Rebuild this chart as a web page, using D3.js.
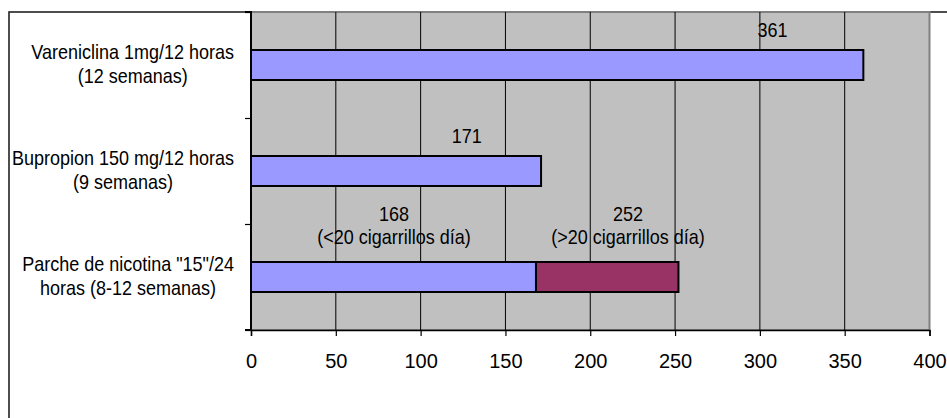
<!DOCTYPE html>
<html>
<head>
<meta charset="utf-8">
<script src="https://cdn.jsdelivr.net/npm/d3@7"></script>
<style>
  html, body { margin: 0; padding: 0; background: #fff; }
  svg { display: block; font-family: Arial, "Liberation Sans", sans-serif; }
</style>
</head>
<body>
<svg id="chart" width="947" height="418"></svg>
<script>
// ---- data ----
const categories = [
  ["Vareniclina 1mg/12 horas", "(12 semanas)"],
  ["Bupropion 150 mg/12 horas", "(9 semanas)"],
  ["Parche de nicotina \"15\"/24", "horas (8-12 semanas)"]
];
const seriesLow  = [361, 171, 168];   // base cost (blue)
const seriesHigh = [0, 0, 252];       // cumulative end of second segment (>20 cigarrillos)
const xTicks = [0, 50, 100, 150, 200, 250, 300, 350, 400];
const labelTexts = [
  ["361"],
  ["171"],
  ["168", "(<20 cigarrillos día)"],
  ["252", "(>20 cigarrillos día)"]
];
const labelCategory = [0, 1, 2, 2];
const labelAnchorValue = [307.5, 127.2, 84.3, 222.2];

// ---- layout ----
const svg = d3.select("#chart");
const plot = { left: 251, right: 929.5, top: 12, bottom: 330 };
const sx = 0.9; // horizontal compression of the original text

const x = d3.scaleLinear().domain([0, 400]).range([plot.left, plot.right]);
const pad = 76 / 106;
const y = d3.scaleBand().domain(d3.range(categories.length))
  .range([plot.top, plot.bottom]).paddingInner(pad).paddingOuter(pad / 2);

// outer frame
svg.append("rect").attr("x", 9).attr("y", 12).attr("width", 1000).attr("height", 500)
  .attr("fill", "none").attr("stroke", "#222").attr("stroke-width", 1.6);

// plot background
svg.append("rect").attr("x", plot.left).attr("y", plot.top)
  .attr("width", plot.right - plot.left).attr("height", plot.bottom - plot.top)
  .attr("fill", "#C0C0C0").attr("stroke", "#808080").attr("stroke-width", 2);

// grid lines
svg.append("g").selectAll("line").data(xTicks.filter(d => d > 0 && d < 400)).join("line")
  .attr("x1", d => x(d)).attr("x2", d => x(d))
  .attr("y1", plot.top).attr("y2", plot.bottom)
  .attr("stroke", "#000").attr("stroke-width", 1);

// bars: second segment (behind) then base
const bars = svg.append("g");
bars.selectAll("rect.high").data(seriesHigh.map((v, i) => ({ v, i })).filter(d => d.v > 0)).join("rect")
  .attr("class", "high")
  .attr("x", d => x(seriesLow[d.i])).attr("width", d => x(d.v) - x(seriesLow[d.i]))
  .attr("y", d => y(d.i)).attr("height", y.bandwidth())
  .attr("fill", "#993366").attr("stroke", "#000").attr("stroke-width", 2);
bars.selectAll("rect.low").data(seriesLow.map((v, i) => ({ v, i }))).join("rect")
  .attr("class", "low")
  .attr("x", x(0)).attr("width", d => x(d.v) - x(0))
  .attr("y", d => y(d.i)).attr("height", y.bandwidth())
  .attr("fill", "#9999FF").attr("stroke", "#000").attr("stroke-width", 2);

// bottom axis
const xAxis = svg.append("g").attr("transform", `translate(0,${plot.bottom})`)
  .call(d3.axisBottom(x).tickValues(xTicks).tickSize(6).tickPadding(18).tickFormat(d3.format("d")));
xAxis.select(".domain").attr("stroke", "#000").attr("stroke-width", 1.5);
xAxis.selectAll(".tick line").attr("stroke", "#000").attr("stroke-width", 1.2);
xAxis.selectAll("text").attr("font-size", 20).attr("fill", "#000")
  .attr("font-family", "Arial, 'Liberation Sans', sans-serif");

// left axis (category boundaries)
const yb = d3.scaleLinear().domain([0, categories.length]).range([plot.top, plot.bottom]);
const yAxis = svg.append("g").attr("transform", `translate(${plot.left},0)`)
  .call(d3.axisLeft(yb).tickValues(d3.range(categories.length + 1)).tickSize(6).tickFormat(""));
yAxis.select(".domain").attr("stroke", "#000").attr("stroke-width", 2).attr("d", `M-6,${plot.top}H0V${plot.bottom}H-6`);
yAxis.selectAll(".tick line").attr("stroke", "#000").attr("stroke-width", 1.2);

// category labels (line 1 right-aligned, line 2 centered under line 1)
const catRight = 234;
categories.forEach((lines, i) => {
  const cy = y(i) + y.bandwidth() / 2;
  const g1 = svg.append("g").attr("transform", `translate(${catRight},${cy - 6}) scale(${sx},1)`);
  const t1 = g1.append("text").attr("text-anchor", "end").attr("font-size", 20).attr("fill", "#000").text(lines[0]);
  const w = t1.node().getComputedTextLength() * sx;
  const center = catRight - w / 2;
  svg.append("g").attr("transform", `translate(${center},${cy + 18}) scale(${sx},1)`)
    .append("text").attr("text-anchor", "middle").attr("font-size", 20).attr("fill", "#000").text(lines[1]);
});

// value labels
labelTexts.forEach((lines, k) => {
  const top = y(labelCategory[k]);
  const cx = x(labelAnchorValue[k]);
  const n = lines.length;
  lines.forEach((s, j) => {
    const base = top - 13 - (n - 1 - j) * 23.5 - (n > 1 ? 5 : 0);
    svg.append("g").attr("transform", `translate(${cx},${base}) scale(${sx},1)`)
      .append("text").attr("text-anchor", "middle").attr("font-size", 20).attr("fill", "#000").text(s);
  });
});
</script>
</body>
</html>
